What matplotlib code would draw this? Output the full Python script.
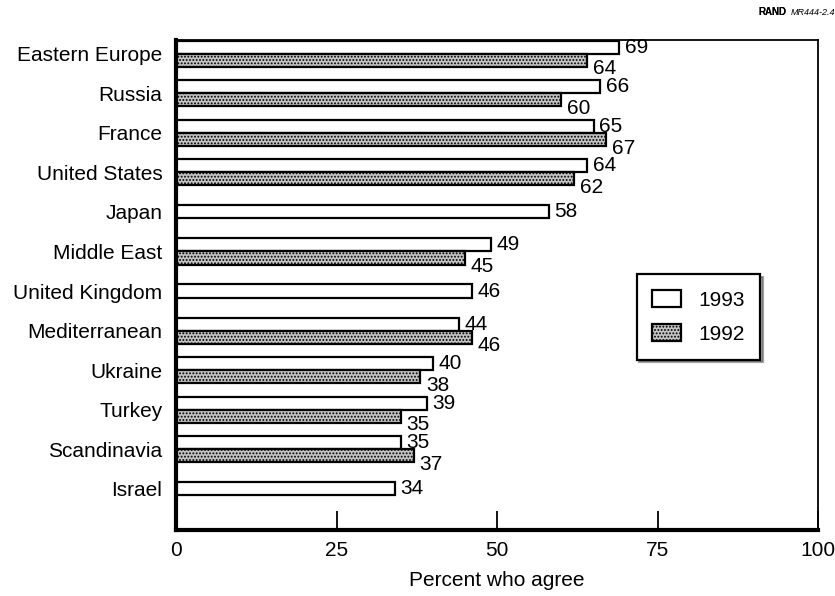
import matplotlib.pyplot as plt
import numpy as np

plt.rcParams['font.family'] = ['Liberation Sans', 'DejaVu Sans']
plt.rcParams['hatch.color'] = '#6a6a6a'
plt.rcParams['hatch.linewidth'] = 0.9

regions = ["Eastern Europe", "Russia", "France", "United States", "Japan",
           "Middle East", "United Kingdom", "Mediterranean", "Ukraine",
           "Turkey", "Scandinavia", "Israel"]
y1993 = [69, 66, 65, 64, 58, 49, 46, 44, 40, 39, 35, 34]
y1992 = [64, 60, 67, 62, None, 45, None, 46, 38, 35, 37, None]

fig, ax = plt.subplots(figsize=(8.35, 5.96), dpi=100)
fig.subplots_adjust(left=0.211, right=0.98, top=0.933, bottom=0.111)

h = 0.33
off = 0.165
gray = '#c4c4c4'
fs = 15
for i, (a, b) in enumerate(zip(y1993, y1992)):
    if b is None:
        ax.barh(i, a, height=h, color='white', edgecolor='black', linewidth=1.6)
        ax.text(a + 0.9, i, str(a), va='center', ha='left', fontsize=fs)
    else:
        ax.barh(i - off, a, height=h, color='white', edgecolor='black', linewidth=1.6)
        ax.barh(i + off, b, height=h, color=gray, hatch='.....',
                edgecolor='black', linewidth=1.6)
        ax.text(a + 0.9, i - off, str(a), va='center', ha='left', fontsize=fs)
        ax.text(b + 0.9, i + off + 0.22, str(b), va='center', ha='left', fontsize=fs)

# legend handles
ax.barh(0, 0, height=0, color='white', edgecolor='black', linewidth=1.6, label='1993')
ax.barh(0, 0, height=0, color=gray, hatch='.....', edgecolor='black',
        linewidth=1.6, label='1992')
handles, labels = ax.get_legend_handles_labels()
leg = ax.legend(handles[-2:], labels[-2:], loc='upper left',
                bbox_to_anchor=(0.717, 0.522), frameon=True, fancybox=False,
                shadow=True, edgecolor='black', fontsize=fs, handlelength=1.4,
                handleheight=0.9, borderpad=0.75, labelspacing=0.7,
                handletextpad=0.8, borderaxespad=0)
leg.get_frame().set_linewidth(1.6)

ax.set_xlim(0, 100)
ax.set_ylim(len(regions) - 1 + 1.04, -0.35)
ax.set_yticks(np.arange(len(regions)))
ax.set_yticklabels(regions, fontsize=fs)
ax.tick_params(axis='y', length=0, pad=10)
ax.set_xticks([0, 25, 50, 75, 100])
ax.set_xticklabels(['0', '25', '50', '75', '100'], fontsize=fs)
ax.tick_params(axis='x', direction='in', length=14, width=1.3, pad=8)

ax.spines['left'].set_linewidth(3)
ax.spines['bottom'].set_linewidth(3)
ax.spines['top'].set_linewidth(1.3)
ax.spines['right'].set_linewidth(1.3)

ax.set_xlabel("Percent who agree", fontsize=fs, labelpad=8)

rand = fig.text(0.908, 0.988, "RAND", fontsize=7, fontweight='bold', ha='left', va='top')
fig.add_artist(rand)
ax.annotate("MR444-2.4", xy=(1, 0), xycoords=rand, xytext=(3, 0),
            textcoords='offset points', fontsize=6.5, style='italic',
            ha='left', va='bottom', annotation_clip=False)

fig.savefig('out.png', dpi=100)
